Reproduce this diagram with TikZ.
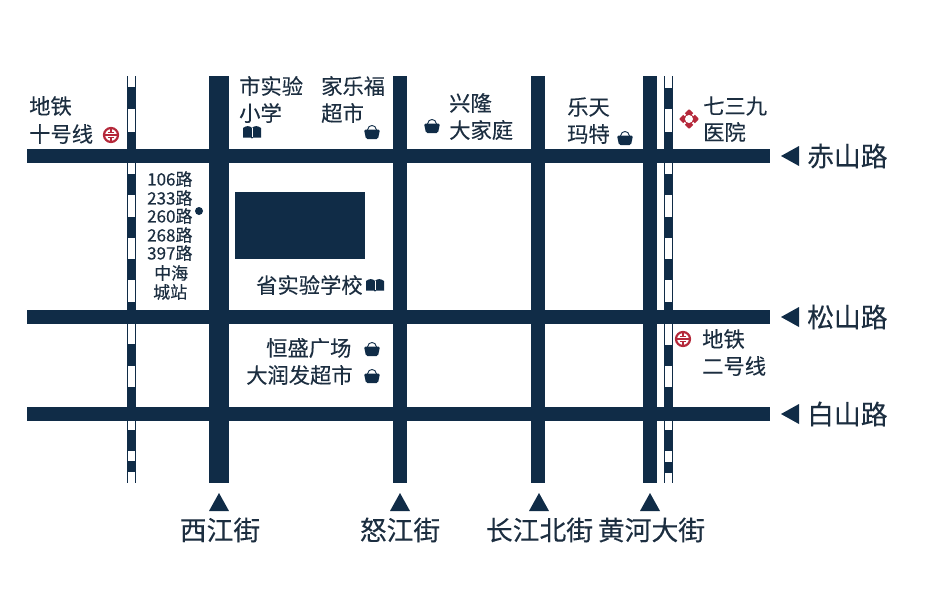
\documentclass[tikz,border=0pt]{standalone}
\usepackage{fontspec}
\setmainfont{Noto Sans CJK SC}[FakeBold=0.15]
\usepackage{xcolor}
\definecolor{roadblue}{HTML}{102C47}
\definecolor{labelblue}{HTML}{1C2E40}
\definecolor{signred}{HTML}{B5283A}
\tikzset{
    bagicon/.pic={
        \fill [roadblue, rounded corners=1.5pt] (-8,-2.5) -- (8,-2.5) -- (6,7) -- (-6,7) -- cycle;
        \draw [roadblue, line width=0.9pt] (-4.5,-2) .. controls (-4,-8) and (4,-8) .. (4.5,-2);
    },
    bookicon/.pic={
        \fill [roadblue] (-9,-4) .. controls (-6,-6.5) and (-2,-6.5) .. (0,-4) .. controls (2,-6.5) and (6,-6.5) .. (9,-4) -- (9,5.5) -- (1,5.5) -- (0,6.5) -- (-1,5.5) -- (-9,5.5) -- cycle;
        \draw [white, line width=0.5pt] (0,-4) -- (0,5);
    },
    metroicon/.pic={
        \draw [signred, line width=2.2pt] (0,0) circle (7);
        \draw [signred, line width=1.5pt] (-8.2,0) -- (8.2,0);
        \fill [signred] (-3.2,-3.4) rectangle (3.2,-2.2);
        \fill [signred] (-3.2,2.2) rectangle (3.2,3.4);
        \fill [signred] (-0.8,-6) rectangle (0.8,-3);
        \fill [signred] (-0.8,3) rectangle (0.8,6);
    },
    crossicon/.pic={
        \fill [signred, rounded corners=1pt] (0,-10) -- (10,0) -- (0,10) -- (-10,0) -- cycle;
        \fill [white] (0,0) circle (4);
        \draw [white, line width=2pt] (3.6,3.6) -- (7,7) (-3.6,3.6) -- (-7,7) (3.6,-3.6) -- (7,-7) (-3.6,-3.6) -- (-7,-7);
    }
}
\begin{document}
\begin{tikzpicture}[x=1pt, y=-1pt]
    \tikzstyle{every node}+=[inner sep=0pt, text=labelblue]
    \tikzstyle{road}=[fill=roadblue, draw=none]
    \tikzstyle{rail}=[draw=roadblue, line width=0.7pt]
    \tikzstyle{placelabel}=[anchor=west, font=\fontsize{21.3}{21}\selectfont]
    \tikzstyle{buslabel}=[anchor=west, font=\fontsize{17}{18}\selectfont]
    \tikzstyle{streetlabel}=[font=\fontsize{26.8}{27}\selectfont]
    \useasboundingbox (0,0) rectangle (946,600);
    \fill [white] (0,0) rectangle (946,600);
    % streets
    \fill [road] (209,76) rectangle (229,483);
    \fill [road] (392.5,76) rectangle (407,483);
    \fill [road] (531,76) rectangle (545,483);
    \fill [road] (643,76) rectangle (657,483);
    % left metro line
    \draw [rail] (127.5,76) -- (127.5,483);
    \draw [rail] (135.5,76) -- (135.5,483);
    \fill [road] (127,87) rectangle (136,109);
    \fill [road] (127,132) rectangle (136,149);
    \fill [road] (127,174) rectangle (136,195);
    \fill [road] (127,217) rectangle (136,238);
    \fill [road] (127,259) rectangle (136,280);
    \fill [road] (127,302) rectangle (136,310);
    \fill [road] (127,344) rectangle (136,366);
    \fill [road] (127,387) rectangle (136,407);
    \fill [road] (127,430) rectangle (136,451);
    \fill [road] (127,461) rectangle (136,472);
    % right metro line
    \draw [rail] (664.5,76) -- (664.5,483);
    \draw [rail] (672.5,76) -- (672.5,483);
    \fill [road] (664,88) rectangle (673,109);
    \fill [road] (664,132) rectangle (673,149);
    \fill [road] (664,174) rectangle (673,195);
    \fill [road] (664,217) rectangle (673,238);
    \fill [road] (664,259) rectangle (673,280);
    \fill [road] (664,302) rectangle (673,310);
    \fill [road] (664,345) rectangle (673,366);
    \fill [road] (664,387) rectangle (673,407);
    \fill [road] (664,430) rectangle (673,451);
    \fill [road] (664,462) rectangle (673,473);
    % cross roads
    \fill [road] (27,149) rectangle (770,163);
    \fill [road] (27,310) rectangle (770,324);
    \fill [road] (27,407) rectangle (770,421);
    % school block
    \fill [road] (235,191.5) rectangle (365,259);
    \fill [road] (199,211) circle (4);
    % direction marks
    \fill [road] (781,156) -- (799,146) -- (799,166) -- cycle;
    \fill [road] (781,317) -- (799,307) -- (799,327) -- cycle;
    \fill [road] (781,414) -- (799,404) -- (799,424) -- cycle;
    \fill [road] (219,493) -- (229,511) -- (209,511) -- cycle;
    \fill [road] (400,493) -- (410,511) -- (390,511) -- cycle;
    \fill [road] (539,493) -- (549,511) -- (529,511) -- cycle;
    \fill [road] (650,493) -- (660,511) -- (640,511) -- cycle;
    % icons
    \pic at (372,132) {bagicon};
    \pic at (432,126) {bagicon};
    \pic at (625,138) {bagicon};
    \pic at (372,349) {bagicon};
    \pic at (372,376) {bagicon};
    \pic at (252,132) {bookicon};
    \pic at (375,285) {bookicon};
    \pic at (111,135) {metroicon};
    \pic at (683,339) {metroicon};
    \pic at (689,119) {crossicon};
    % labels
    \node [placelabel] (metroten) at (29,106) {地铁};
    \node [placelabel] (metrotenb) at (29,134) {十号线};
    \node [placelabel] (primary) at (239,86) {市实验};
    \node [placelabel] (primaryb) at (239,113) {小学};
    \node [placelabel] (carrefour) at (321,86) {家乐福};
    \node [placelabel] (carrefourb) at (321,113) {超市};
    \node [placelabel] (xinglong) at (449,103) {兴隆};
    \node [placelabel] (xinglongb) at (449,130) {大家庭};
    \node [placelabel] (lotte) at (567,107) {乐天};
    \node [placelabel] (lotteb) at (567,134) {玛特};
    \node [placelabel] (hospital) at (703,106) {七三九};
    \node [placelabel] (hospitalb) at (703,132) {医院};
    \node [placelabel] (metrotwo) at (702,339) {地铁};
    \node [placelabel] (metrotwob) at (702,366) {二号线};
    \node [placelabel] (school) at (256,285) {省实验学校};
    \node [placelabel] (hengsheng) at (266,348) {恒盛广场};
    \node [placelabel] (runfa) at (246,375) {大润发超市};
    \node [buslabel] (busa) at (147,179) {106路};
    \node [buslabel] (busb) at (147,198) {233路};
    \node [buslabel] (busc) at (147,216) {260路};
    \node [buslabel] (busd) at (147,235) {268路};
    \node [buslabel] (buse) at (147,253) {397路};
    \node [buslabel] (stop) at (154,273) {中海};
    \node [buslabel] (stopb) at (153,292) {城站};
    \node [streetlabel, anchor=west] (chishan) at (807,156) {赤山路};
    \node [streetlabel, anchor=west] (songshan) at (807,317) {松山路};
    \node [streetlabel, anchor=west] (baishan) at (807,414) {白山路};
    \node [streetlabel] (xijiang) at (220,530) {西江街};
    \node [streetlabel] (nujiang) at (400,530) {怒江街};
    \node [streetlabel] (changjiang) at (539.5,530) {长江北街};
    \node [streetlabel] (huanghe) at (651.5,530) {黄河大街};
\end{tikzpicture}
\end{document}
